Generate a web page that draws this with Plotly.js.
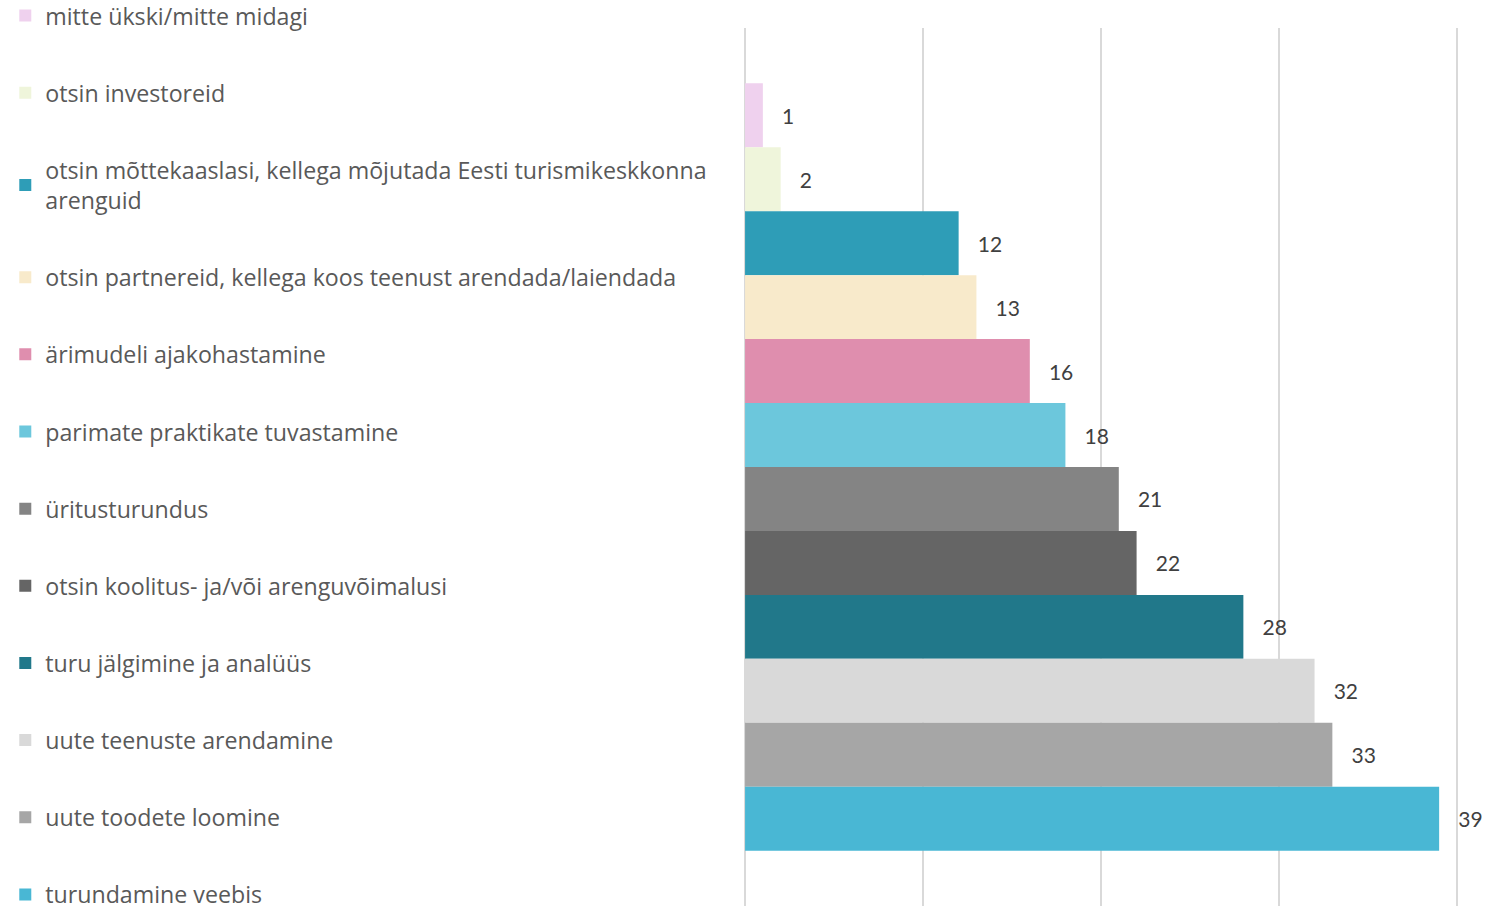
<!DOCTYPE html>
<html>
<head>
<meta charset="utf-8">
<script src="https://cdn.plot.ly/plotly-3.0.1.min.js"></script>
<style>html,body{margin:0;padding:0;background:#fff;}#chart{width:1509px;height:906px;}</style>
</head>
<body>
<div id="chart"></div>
<script>
const labels = [
  "mitte ükski/mitte midagi",
  "otsin investoreid",
  "otsin mõttekaaslasi, kellega mõjutada Eesti turismikeskkonna<br>arenguid",
  "otsin partnereid, kellega koos teenust arendada/laiendada",
  "ärimudeli ajakohastamine",
  "parimate praktikate tuvastamine",
  "üritusturundus",
  "otsin koolitus- ja/või arenguvõimalusi",
  "turu jälgimine ja analüüs",
  "uute teenuste arendamine",
  "uute toodete loomine",
  "turundamine veebis"
];
const values = [1, 2, 12, 13, 16, 18, 21, 22, 28, 32, 33, 39];
const colors = ["#efd1ee", "#eff5db", "#2e9db7", "#f8eacb", "#df8eae", "#6cc7dc", "#848484", "#656565", "#21788a", "#d9d9d9", "#a6a6a6", "#49b7d4"];
const category = ["kõik"];
const xTicks = [0, 10, 20, 30, 40];

const traces = labels.map((name, i) => ({
  type: "bar",
  orientation: "h",
  name: name,
  legendgroup: "g" + i,
  y: category,
  x: [values[i]],
  marker: {color: colors[i]},
  texttemplate: "\u00a0\u00a0\u00a0%{x}",
  textposition: "outside",
  textfont: {family: "Lato, sans-serif", size: 21, color: "#404040"},
  cliponaxis: false,
  hoverinfo: "x+name"
}));

const layout = {
  width: 1509, height: 906,
  margin: {l: 744, r: 51, t: 28, b: 0, autoexpand: false},
  paper_bgcolor: "#ffffff", plot_bgcolor: "#ffffff",
  barmode: "group",
  bargap: 0.126,
  bargroupgap: 0,
  font: {family: "Open Sans, sans-serif", color: "#595959"},
  xaxis: {range: [-0.06, 40.06], tickvals: xTicks, showticklabels: false, showgrid: true, gridcolor: "#d9d9d9", gridwidth: 2, zeroline: false, showline: false, ticks: ""},
  yaxis: {autorange: "reversed", showticklabels: false, showgrid: false, zeroline: false, showline: false, ticks: ""},
  showlegend: true,
  legend: {xref: "container", yref: "paper", x: 0.0035, y: 1.0388, xanchor: "left", yanchor: "top", maxheight: 2000, font: {family: "Open Sans, sans-serif", size: 23.2, color: "#595959"}, tracegroupgap: 44, bgcolor: "rgba(0,0,0,0)"}
};

Plotly.newPlot("chart", traces, layout, {displayModeBar: false, responsive: false});
</script>
</body>
</html>
